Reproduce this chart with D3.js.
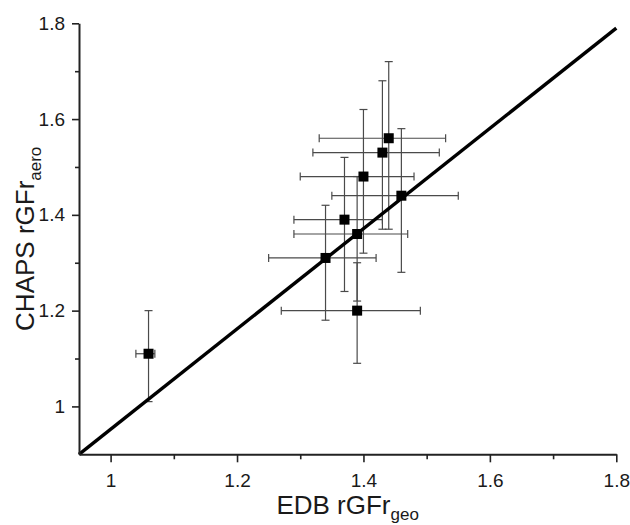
<!DOCTYPE html>
<html><head><meta charset="utf-8">
<script src="https://cdn.jsdelivr.net/npm/d3@7"></script>
<style>
html,body{margin:0;padding:0;background:#fff;}
svg{display:block;}
text{font-family:"Liberation Sans",Arial,sans-serif;fill:#1a1a1a;}
</style></head>
<body><svg id="c" width="630" height="525"></svg>
<script>
// Data
const xVals = [1.44, 1.43, 1.40, 1.46, 1.37, 1.39, 1.34, 1.39, 1.06];
const yVals = [1.56, 1.53, 1.48, 1.44, 1.39, 1.36, 1.31, 1.20, 1.11];
const xLow  = [1.33, 1.32, 1.30, 1.35, 1.29, 1.29, 1.25, 1.27, 1.04];
const xHigh = [1.53, 1.52, 1.48, 1.55, 1.43, 1.47, 1.42, 1.49, 1.07];
const yLow  = [1.37, 1.37, 1.32, 1.28, 1.24, 1.22, 1.18, 1.09, 1.01];
const yHigh = [1.72, 1.68, 1.62, 1.58, 1.52, 1.48, 1.42, 1.30, 1.20];
const fitX = [0.95, 1.80];
const fitY = [0.90, 1.79];
const xMajor = [1, 1.2, 1.4, 1.6, 1.8];
const xMinor = [1.1, 1.3, 1.5, 1.7];
const yMajor = [1, 1.2, 1.4, 1.6, 1.8];
const yMinor = [1.1, 1.3, 1.5, 1.7];
const xLabels = ["1", "1.2", "1.4", "1.6", "1.8"];
const yLabels = ["1", "1.2", "1.4", "1.6", "1.8"];
const xDomain = [0.95, 1.8];
const yDomain = [0.9, 1.8];

const svg = d3.select("#c");
const L = 79, R = 616.3, T = 23.3, B = 454.3;
const x = d3.scaleLinear().domain(xDomain).range([L, R]);
const y = d3.scaleLinear().domain(yDomain).range([B, T]);

const pts = xVals.map((v, i) => ({x: v, y: yVals[i], xl: xLow[i], xh: xHigh[i], yl: yLow[i], yh: yHigh[i]}));

// error bars
const eb = svg.append("g").attr("stroke", "#4a4a4a").attr("stroke-width", 1.2).attr("fill", "none");
const cap = 4;
pts.forEach(p => {
  eb.append("line").attr("x1", x(p.xl)).attr("x2", x(p.xh)).attr("y1", y(p.y)).attr("y2", y(p.y));
  eb.append("line").attr("x1", x(p.xl)).attr("x2", x(p.xl)).attr("y1", y(p.y) - cap).attr("y2", y(p.y) + cap);
  eb.append("line").attr("x1", x(p.xh)).attr("x2", x(p.xh)).attr("y1", y(p.y) - cap).attr("y2", y(p.y) + cap);
  eb.append("line").attr("x1", x(p.x)).attr("x2", x(p.x)).attr("y1", y(p.yl)).attr("y2", y(p.yh));
  eb.append("line").attr("x1", x(p.x) - cap).attr("x2", x(p.x) + cap).attr("y1", y(p.yl)).attr("y2", y(p.yl));
  eb.append("line").attr("x1", x(p.x) - cap).attr("x2", x(p.x) + cap).attr("y1", y(p.yh)).attr("y2", y(p.yh));
});

// fit line
svg.append("line")
  .attr("x1", x(fitX[0])).attr("y1", y(fitY[0]))
  .attr("x2", x(fitX[1])).attr("y2", y(fitY[1]))
  .attr("stroke", "#000").attr("stroke-width", 3.4);

// markers
const sz = 10;
svg.append("g").selectAll("rect").data(pts).join("rect")
  .attr("x", d => x(d.x) - sz / 2).attr("y", d => y(d.y) - sz / 2)
  .attr("width", sz).attr("height", sz).attr("fill", "#000");

// axes
const fmtX = d => xLabels[xMajor.indexOf(d)];
const fmtY = d => yLabels[yMajor.indexOf(d)];
function style(g) {
  g.selectAll("path.domain").attr("stroke", "#222").attr("stroke-width", 2);
  g.selectAll(".tick line").attr("stroke", "#222").attr("stroke-width", 1.6);
  g.selectAll("text").attr("font-size", 19).attr("fill", "#1a1a1a").attr("font-family", "Liberation Sans, Arial, sans-serif");
}
const gx = svg.append("g").attr("transform", `translate(0,${B})`)
  .call(d3.axisBottom(x).tickValues(xMajor).tickFormat(fmtX).tickSize(8).tickSizeOuter(0).tickPadding(11));
style(gx);
const gxm = svg.append("g").attr("transform", `translate(0,${B})`)
  .call(d3.axisBottom(x).tickValues(xMinor).tickFormat("").tickSize(5).tickSizeOuter(0));
style(gxm);
gxm.select("path.domain").remove();

const gy = svg.append("g").attr("transform", `translate(${L},0)`)
  .call(d3.axisLeft(y).tickValues(yMajor).tickFormat(fmtY).tickSize(7).tickSizeOuter(0).tickPadding(7));
style(gy);
const gym = svg.append("g").attr("transform", `translate(${L},0)`)
  .call(d3.axisLeft(y).tickValues(yMinor).tickFormat("").tickSize(4).tickSizeOuter(0));
style(gym);
gym.select("path.domain").remove();

// axis titles
const xt = svg.append("text").attr("x", (L + R) / 2).attr("y", 514).attr("text-anchor", "middle")
  .attr("font-size", 26);
xt.append("tspan").text("EDB rGFr");
xt.append("tspan").attr("font-size", 17).attr("dy", 5.5).text("geo");

const yt = svg.append("text").attr("transform", `translate(34,${(T + B) / 2}) rotate(-90)`)
  .attr("text-anchor", "middle").attr("font-size", 26);
yt.append("tspan").text("CHAPS rGFr");
yt.append("tspan").attr("font-size", 17).attr("dy", 7).text("aero");
</script></body></html>
